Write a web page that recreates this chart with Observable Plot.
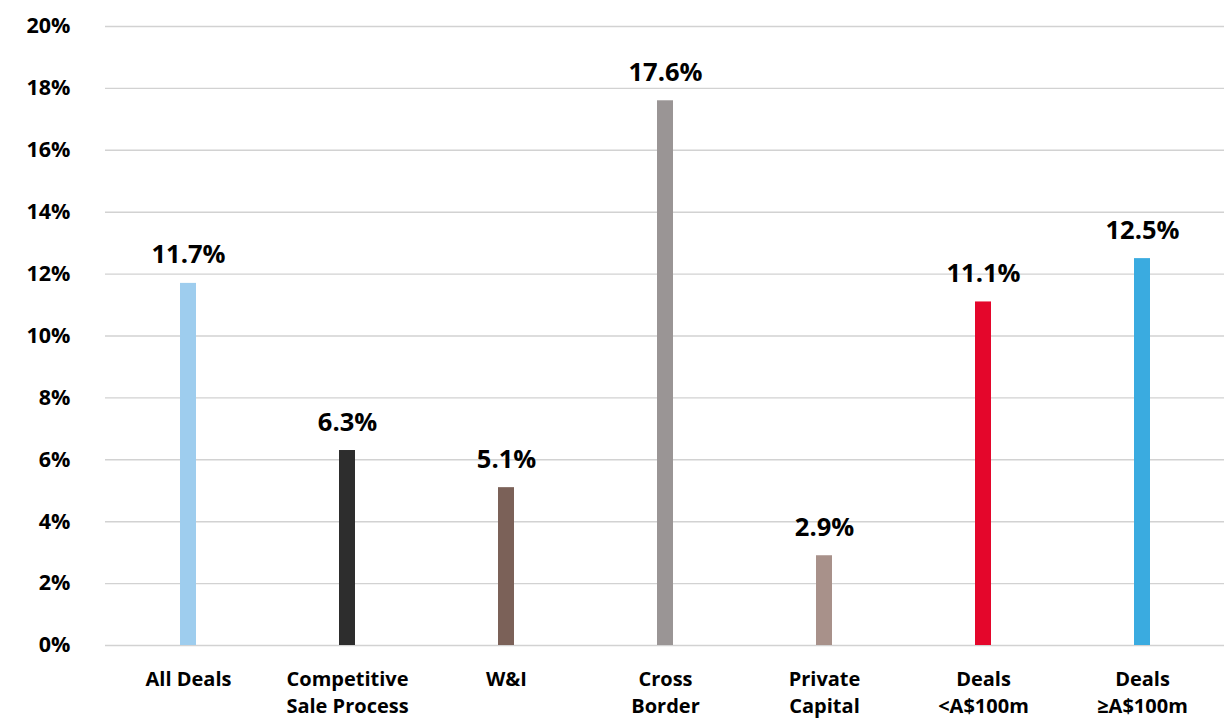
<!DOCTYPE html>
<html>
<head>
<meta charset="utf-8">
<script src="https://cdn.jsdelivr.net/npm/d3@7"></script>
<script src="https://cdn.jsdelivr.net/npm/@observablehq/plot@0.6"></script>
<style>
  html, body { margin: 0; padding: 0; background: #fff; }
  #chart svg { display: block; }
</style>
</head>
<body>
<div id="chart"></div>
<script>
const categories = ["All Deals", "Competitive\nSale Process", "W&I", "Cross\nBorder", "Private\nCapital", "Deals\n<A$100m", "Deals\n≥A$100m"];
const values = [11.7, 6.3, 5.1, 17.6, 2.9, 11.1, 12.5];
const colors = ["#9ecdee", "#2d2d2d", "#7b6158", "#9a9595", "#a8918a", "#e4062b", "#3aabe0"];
const yTicks = [0, 2, 4, 6, 8, 10, 12, 14, 16, 18, 20];

const data = categories.map((c, i) => ({category: c, value: values[i], color: colors[i]}));
const font = "'Open Sans', 'Noto Sans', sans-serif";

const chart = Plot.plot({
  width: 1224,
  height: 720,
  marginLeft: 105,
  marginRight: 0,
  marginTop: 26,
  marginBottom: 75,
  style: {fontFamily: font, background: "#fff", color: "#000"},
  x: {domain: categories, paddingInner: 0.9, paddingOuter: 0.45, label: null},
  y: {domain: [0, 20], label: null},
  color: {type: "identity"},
  marks: [
    Plot.ruleY(yTicks, {stroke: "#d2d2d2", strokeWidth: 1.4}),
    Plot.barY(data, {x: "category", y: "value", fill: "color"}),
    Plot.text(data, {
      x: "category", y: "value",
      text: d => d.value.toFixed(1) + "%",
      lineAnchor: "bottom", dy: -20,
      fontSize: 25.5, fontWeight: "bold", fill: "#000"
    }),
    Plot.axisY(yTicks, {
      tickSize: 0, tickPadding: 35, fontSize: 21.5, fontWeight: "bold",
      tickFormat: d => d + "%", fill: "#000"
    }),
    Plot.axisX({
      tickSize: 0, tickPadding: 21, fontSize: 20, fontWeight: "bold",
      lineHeight: 1.37, fill: "#000", label: null
    })
  ]
});
document.getElementById("chart").appendChild(chart);
</script>
</body>
</html>
